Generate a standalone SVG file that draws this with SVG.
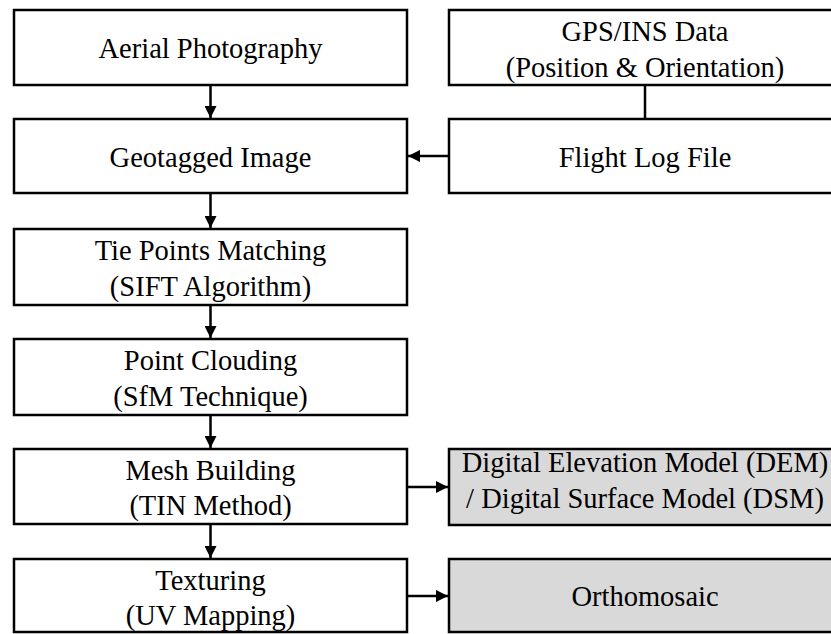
<svg xmlns="http://www.w3.org/2000/svg" width="831" height="634" viewBox="0 0 831 634">
<style>
.box{fill:#ffffff;stroke:#000;stroke-width:2.5}
.gray{fill:#d9d9d9;stroke:#000;stroke-width:2.5}
.t{font-family:"Liberation Serif","Times New Roman",serif;font-size:28.5px;fill:#000;text-anchor:middle}
.c{stroke:#000;stroke-width:2.5;fill:none}
</style>
<defs>
<marker id="ah" markerUnits="userSpaceOnUse" markerWidth="12" markerHeight="12" viewBox="0 0 12 12" refX="12" refY="6" orient="auto">
<path d="M0,0 L12,6 L0,12 Z" fill="#000"/>
</marker>
</defs>
<rect width="831" height="634" fill="#fff"/>
<g id="connectors">
<line class="c" x1="210.5" y1="85" x2="210.5" y2="118" marker-end="url(#ah)"/>
<line class="c" x1="210.5" y1="193" x2="210.5" y2="228" marker-end="url(#ah)"/>
<line class="c" x1="210.5" y1="305" x2="210.5" y2="338" marker-end="url(#ah)"/>
<line class="c" x1="210.5" y1="415" x2="210.5" y2="448" marker-end="url(#ah)"/>
<line class="c" x1="210.5" y1="524" x2="210.5" y2="558" marker-end="url(#ah)"/>
<line class="c" x1="645" y1="85" x2="645" y2="119"/>
<line class="c" x1="449" y1="156" x2="408" y2="156" marker-end="url(#ah)"/>
<line class="c" x1="407" y1="487" x2="448" y2="487" marker-end="url(#ah)"/>
<line class="c" x1="407" y1="596" x2="448" y2="596" marker-end="url(#ah)"/>
</g>
<g id="aerial"><rect class="box" x="14" y="10" width="393" height="75"/><text class="t" x="210.5" y="58">Aerial Photography</text></g>
<g id="geotagged"><rect class="box" x="14" y="119" width="393" height="74"/><text class="t" x="210.5" y="166.5">Geotagged Image</text></g>
<g id="tiepoints"><rect class="box" x="14" y="229" width="393" height="76"/><text class="t" x="210.5" y="260">Tie Points Matching</text><text class="t" x="210.5" y="296">(SIFT Algorithm)</text></g>
<g id="pointcloud"><rect class="box" x="14" y="339" width="393" height="76"/><text class="t" x="210.5" y="370">Point Clouding</text><text class="t" x="210.5" y="405.5">(SfM Technique)</text></g>
<g id="mesh"><rect class="box" x="14" y="449" width="393" height="75"/><text class="t" x="210.5" y="480">Mesh Building</text><text class="t" x="210.5" y="515">(TIN Method)</text></g>
<g id="texturing"><rect class="box" x="14" y="559" width="393" height="73"/><text class="t" x="210.5" y="590">Texturing</text><text class="t" x="210.5" y="625">(UV Mapping)</text></g>
<g id="gps"><rect class="box" x="449" y="10" width="393" height="75"/><text class="t" x="645" y="40.5">GPS/INS Data</text><text class="t" x="645" y="76.5">(Position &amp; Orientation)</text></g>
<g id="flightlog"><rect class="box" x="449" y="119" width="393" height="74"/><text class="t" x="645" y="166.5">Flight Log File</text></g>
<g id="dem"><rect class="gray" x="449" y="449" width="393" height="76"/><text class="t" x="645" y="471.5">Digital Elevation Model (DEM)</text><text class="t" x="645" y="507.5">/ Digital Surface Model (DSM)</text></g>
<g id="ortho"><rect class="gray" x="449" y="559" width="393" height="73"/><text class="t" x="645" y="605.5">Orthomosaic</text></g>
</svg>
